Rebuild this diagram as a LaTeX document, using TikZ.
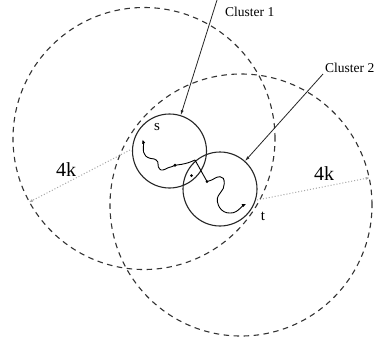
\documentclass[tikz,border=0pt]{standalone}
\usepackage{fontspec}
\setmainfont{Liberation Serif}
\usetikzlibrary{arrows.meta}
\begin{document}
\begin{tikzpicture}[x=1pt,y=-1pt,
  bigring/.style={circle,draw=black!80,dashed,dash pattern=on 5.5pt off 4.5pt,line width=1.1pt,minimum size=262pt,inner sep=0pt},
  cluster/.style={circle,draw=black!85,line width=1.1pt,minimum size=74pt,inner sep=0pt},
  radius4k/.style={draw=black!35,dotted,line width=1pt,-{Latex[length=4pt,width=3pt]}},
  pointer/.style={draw=black!85,line width=0.8pt,-{Latex[length=5pt,width=3pt]}},
  walk/.style={draw=black,line width=0.9pt},
  lbl/.style={inner sep=0pt,font=\fontsize{13.5}{14}\selectfont},
  biglbl/.style={inner sep=0pt,font=\fontsize{20}{22}\selectfont},
  ptlbl/.style={inner sep=0pt,font=\fontsize{15}{16}\selectfont}]
\useasboundingbox[fill=white] (0,0) rectangle (380,341);
% big dashed rings
\node[bigring] (B1) at (144,138.5) {};
\node[bigring] (B2) at (241,205) {};
% clusters
\node[cluster] (S) at (169.5,151) {};
\node[cluster] (T) at (220,189) {};
% 4k radii
\coordinate (r1s) at (130,150);
\coordinate (r2s) at (257,200);
\draw[radius4k] (r1s) -- (B1.209);
\draw[radius4k] (r2s) -- (B2.12.5);
\node[biglbl,fill=white] (k1) at (66,170) {4k};
\node[biglbl] (k2) at (324,174) {4k};
% labels
\node[lbl,anchor=west] (c1) at (225,12) {Cluster 1};
\node[lbl,anchor=west] (c2) at (325,67.5) {Cluster 2};
\coordinate (p1) at (217,0);
\coordinate (p2) at (323,74);
\draw[pointer] (p1) -- (S);
\draw[pointer] (p2) -- (T);
% walk in cluster 1
\draw[walk,{Latex[length=4pt,width=3.5pt]}-] plot[smooth,tension=0.6] coordinates {
 (142.5,139.5) (143.6,144) (143.3,148) (143.5,152) (145.7,156) (150,158.3) (154.3,159)
 (157.7,161.7) (158.3,166.7) (161,170) (165,169.3) (168.3,167.7) (171.7,166.7)
 (175,165.3) (181.7,164.3) (188.3,162.7) (195,160)};
\draw[walk] (195,160) -- (207,181.5);
\draw[walk,-{Latex[length=4pt,width=3.5pt]}] plot[smooth,tension=0.6] coordinates {
 (207,181.5) (211.7,180) (216.7,177.3) (220,176.7) (223.3,178.3) (224.3,183.3)
 (223.3,188.3) (220,193.3) (217.3,198.3) (218.3,205) (221.7,210) (226.7,212.7)
 (233.3,212.7) (238.3,210) (242.5,206) (246,204)};
\fill (175,165.3) circle (1.6pt);
\fill (207,181.5) circle (1.5pt);
\fill (191.5,175.5) circle (1.5pt);
% s and t
\node[ptlbl] (sl) at (157,127) {s};
\node[ptlbl] (tl) at (263,216) {t};
\end{tikzpicture}
\end{document}
